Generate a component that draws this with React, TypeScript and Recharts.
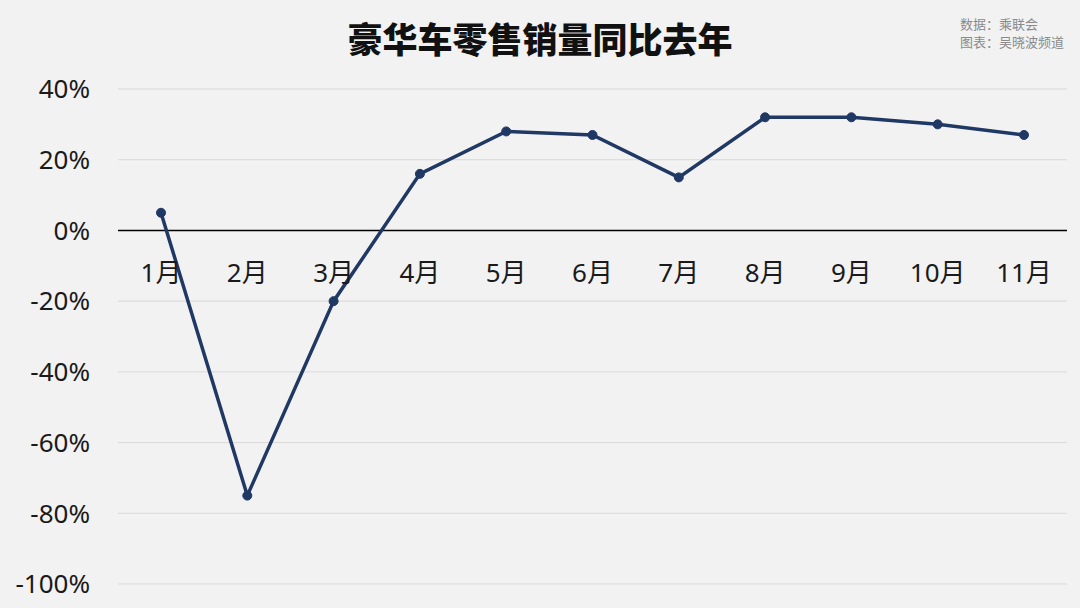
import { LineChart, Line, XAxis, YAxis, CartesianGrid, ReferenceLine, LabelList } from "recharts";

const months = ["1月", "2月", "3月", "4月", "5月", "6月", "7月", "8月", "9月", "10月", "11月"];
const yoy = [5, -75, -20, 16, 28, 27, 15, 32, 32, 30, 27];
const baseline = [0, 0, 0, 0, 0, 0, 0, 0, 0, 0, 0];
const yTicks = [-100, -80, -60, -40, -20, 0, 20, 40];

const data = months.map((m, i) => ({ month: m, yoy: yoy[i], base: baseline[i] }));

const FONT = "'Noto Sans', 'Noto Sans CJK SC', sans-serif";

export default function App() {
  return (
    <div
      style={{
        position: "absolute",
        left: 0,
        top: 0,
        width: 1080,
        height: 608,
        background: "#f2f2f2",
        fontFamily: FONT,
        overflow: "hidden",
      }}
    >
      <div
        style={{
          position: "absolute",
          top: 15,
          left: 0,
          width: 1080,
          textAlign: "center",
          fontSize: 35,
          fontWeight: 900,
          color: "#111",
          fontFamily: "'Noto Sans CJK SC', sans-serif",
          lineHeight: "46px",
        }}
      >
        豪华车零售销量同比去年
      </div>
      <div
        style={{
          position: "absolute",
          top: 15,
          left: 960,
          fontSize: 13,
          lineHeight: "18px",
          color: "#8a8a8a",
          fontFamily: "'Noto Sans CJK SC', sans-serif",
        }}
      >
        <div>数据：乘联会</div>
        <div>图表：吴晓波频道</div>
      </div>
      <LineChart
        width={1080}
        height={608}
        data={data}
        margin={{ top: 89, right: 13, bottom: 24, left: 0 }}
        style={{ position: "absolute", left: 0, top: 0 }}
      >
        <CartesianGrid vertical={false} stroke="#d9d9d9" strokeWidth={1} />
        <XAxis dataKey="month" hide padding={{ left: 43, right: 43 }} />
        <YAxis
          domain={[-100, 40]}
          ticks={yTicks}
          width={118}
          axisLine={false}
          tickLine={false}
          tickMargin={22}
          tickFormatter={(v: number) => `${v}%`}
          tick={{ fontSize: 26, fill: "#1a1a1a", fontFamily: FONT }}
          interval={0}
        />
        <ReferenceLine y={0} stroke="#000" strokeWidth={1.5} />
        <Line
          dataKey="base"
          stroke="none"
          dot={false}
          activeDot={false}
          isAnimationActive={false}
        >
          <LabelList
            dataKey="month"
            position="bottom"
            offset={33}
            style={{ fontSize: 26, fill: "#1a1a1a", fontFamily: FONT }}
          />
        </Line>
        <Line
          dataKey="yoy"
          stroke="#203864"
          strokeWidth={3.5}
          dot={{ r: 4.5, fill: "#203864", stroke: "#203864", strokeWidth: 1 }}
          activeDot={false}
          isAnimationActive={false}
        />
      </LineChart>
    </div>
  );
}
